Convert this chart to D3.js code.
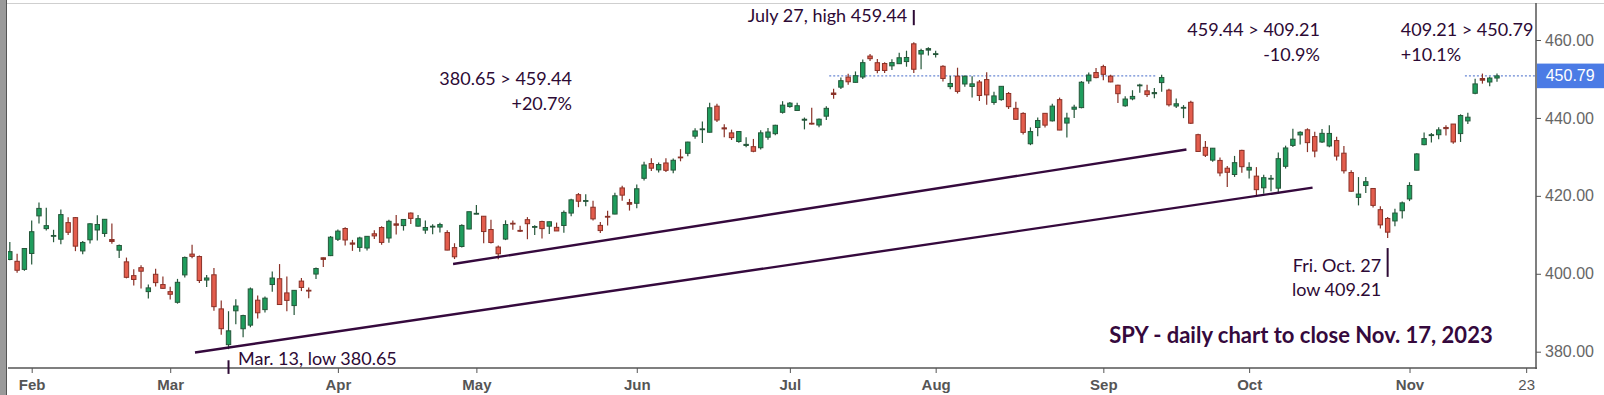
<!DOCTYPE html>
<html><head><meta charset="utf-8">
<script src="https://cdn.jsdelivr.net/npm/d3@7"></script>
<style>body{margin:0;background:#fff;overflow:hidden}svg{display:block}</style>
</head><body>
<svg id="chart" width="1604" height="395"></svg>
<script>
// ---------------- DATA ----------------
const dates = [
"2023-01-27","2023-01-30","2023-01-31",
"2023-02-01","2023-02-02","2023-02-03","2023-02-06","2023-02-07","2023-02-08","2023-02-09","2023-02-10","2023-02-13","2023-02-14","2023-02-15","2023-02-16","2023-02-17","2023-02-21","2023-02-22","2023-02-23","2023-02-24","2023-02-27","2023-02-28",
"2023-03-01","2023-03-02","2023-03-03","2023-03-06","2023-03-07","2023-03-08","2023-03-09","2023-03-10","2023-03-13","2023-03-14","2023-03-15","2023-03-16","2023-03-17","2023-03-20","2023-03-21","2023-03-22","2023-03-23","2023-03-24","2023-03-27","2023-03-28","2023-03-29","2023-03-30","2023-03-31",
"2023-04-03","2023-04-04","2023-04-05","2023-04-06","2023-04-10","2023-04-11","2023-04-12","2023-04-13","2023-04-14","2023-04-17","2023-04-18","2023-04-19","2023-04-20","2023-04-21","2023-04-24","2023-04-25","2023-04-26","2023-04-27","2023-04-28",
"2023-05-01","2023-05-02","2023-05-03","2023-05-04","2023-05-05","2023-05-08","2023-05-09","2023-05-10","2023-05-11","2023-05-12","2023-05-15","2023-05-16","2023-05-17","2023-05-18","2023-05-19","2023-05-22","2023-05-23","2023-05-24","2023-05-25","2023-05-26","2023-05-30","2023-05-31",
"2023-06-01","2023-06-02","2023-06-05","2023-06-06","2023-06-07","2023-06-08","2023-06-09","2023-06-12","2023-06-13","2023-06-14","2023-06-15","2023-06-16","2023-06-20","2023-06-21","2023-06-22","2023-06-23","2023-06-26","2023-06-27","2023-06-28","2023-06-29","2023-06-30",
"2023-07-03","2023-07-05","2023-07-06","2023-07-07","2023-07-10","2023-07-11","2023-07-12","2023-07-13","2023-07-14","2023-07-17","2023-07-18","2023-07-19","2023-07-20","2023-07-21","2023-07-24","2023-07-25","2023-07-26","2023-07-27","2023-07-28","2023-07-31",
"2023-08-01","2023-08-02","2023-08-03","2023-08-04","2023-08-07","2023-08-08","2023-08-09","2023-08-10","2023-08-11","2023-08-14","2023-08-15","2023-08-16","2023-08-17","2023-08-18","2023-08-21","2023-08-22","2023-08-23","2023-08-24","2023-08-25","2023-08-28","2023-08-29","2023-08-30","2023-08-31",
"2023-09-01","2023-09-05","2023-09-06","2023-09-07","2023-09-08","2023-09-11","2023-09-12","2023-09-13","2023-09-14","2023-09-15","2023-09-18","2023-09-19","2023-09-20","2023-09-21","2023-09-22","2023-09-25","2023-09-26","2023-09-27","2023-09-28","2023-09-29",
"2023-10-02","2023-10-03","2023-10-04","2023-10-05","2023-10-06","2023-10-09","2023-10-10","2023-10-11","2023-10-12","2023-10-13","2023-10-16","2023-10-17","2023-10-18","2023-10-19","2023-10-20","2023-10-23","2023-10-24","2023-10-25","2023-10-26","2023-10-27","2023-10-30","2023-10-31",
"2023-11-01","2023-11-02","2023-11-03","2023-11-06","2023-11-07","2023-11-08","2023-11-09","2023-11-10","2023-11-13","2023-11-14","2023-11-15","2023-11-16","2023-11-17"
];
const open = [
403.66,403.20,401.13,
405.21,414.86,411.59,409.79,408.87,413.13,414.41,405.86,408.72,411.24,410.35,408.79,406.06,403.06,399.52,401.56,395.42,399.87,397.23,
395.41,392.68,399.71,405.05,404.42,398.39,399.74,390.99,381.81,390.50,385.89,386.82,393.22,390.80,397.24,398.73,395.09,391.84,398.12,395.77,399.93,404.10,404.66,
408.85,411.62,407.91,406.77,406.61,410.26,411.87,409.18,412.81,412.37,415.58,412.22,411.21,412.19,411.99,410.58,406.72,407.00,411.49,
415.47,414.77,411.36,406.86,408.91,412.97,411.13,413.88,411.95,413.42,412.22,411.91,412.39,415.58,420.30,418.64,417.08,412.42,414.74,415.33,422.03,418.28,
418.09,424.50,428.28,426.67,428.44,426.62,429.96,430.92,435.32,437.01,436.33,443.02,437.45,436.16,433.95,432.93,432.62,432.35,435.05,435.96,441.44,
442.92,441.91,439.42,438.63,438.18,440.45,446.39,447.90,450.47,449.13,450.50,455.88,454.17,453.96,453.37,453.92,454.47,459.02,456.40,457.41,
456.27,453.25,448.04,450.72,448.71,448.08,449.22,449.84,443.97,444.70,446.27,442.46,441.16,433.37,437.55,441.18,439.25,444.69,438.68,442.24,442.65,449.51,451.65,
453.17,450.73,448.40,443.11,444.90,448.24,446.95,446.22,449.07,447.14,443.05,442.68,444.01,435.70,432.45,429.17,429.09,427.09,425.48,431.67,
426.62,425.06,422.07,424.36,421.97,427.58,432.94,435.64,436.95,435.21,433.82,432.81,434.19,430.95,425.98,419.61,422.65,421.89,416.45,414.19,413.56,416.18,
419.20,426.58,433.14,435.47,435.69,437.55,438.43,435.98,439.23,446.32,450.11,449.22,450.24
];
const high = [
408.16,405.13,406.53,
413.67,418.31,416.97,411.29,416.49,414.53,414.57,408.44,412.97,415.05,414.06,412.91,407.51,404.16,401.13,402.20,397.25,401.29,399.28,
396.69,398.69,404.45,407.45,404.67,399.71,401.48,393.16,390.39,393.45,389.49,396.47,394.40,394.17,400.61,402.49,399.29,395.84,398.92,396.49,401.60,404.19,409.70,
411.37,411.92,408.70,409.48,409.69,411.18,412.17,413.84,415.09,413.96,415.72,415.08,413.70,412.68,413.07,411.16,407.84,412.69,415.94,
417.62,414.82,413.87,407.24,413.72,413.68,412.31,414.54,412.43,413.64,413.43,413.14,416.22,419.23,420.72,420.39,418.72,413.31,416.16,420.77,422.58,419.22,
422.92,428.74,429.62,428.58,429.62,429.60,431.99,433.88,437.33,439.06,443.90,443.61,438.37,436.99,436.62,435.06,434.61,436.81,437.44,438.28,444.30,
444.08,443.89,440.10,442.64,439.84,442.97,447.48,450.38,451.36,451.93,454.97,456.43,455.10,454.30,455.04,456.74,457.25,459.44,457.78,458.16,
457.25,453.52,450.79,452.89,450.87,450.70,449.74,451.70,446.70,448.11,446.64,444.18,441.43,437.57,440.11,441.18,443.67,445.22,441.30,443.40,449.45,451.67,452.83,
453.67,451.06,448.51,445.55,447.11,448.77,448.53,447.71,451.08,447.48,444.97,443.29,444.44,435.97,434.10,432.27,429.82,427.67,430.25,431.85,
428.60,427.37,425.43,425.37,431.13,432.88,437.22,436.58,437.34,436.45,437.14,438.14,435.18,432.82,426.54,424.82,424.82,421.92,417.33,414.60,416.68,418.53,
423.50,430.92,436.29,436.15,437.59,438.09,438.47,440.93,441.33,450.06,451.38,450.56,451.42
];
const low = [
403.44,400.28,400.77,
402.35,412.88,411.09,408.10,407.57,409.93,405.81,405.01,407.74,408.51,409.47,407.70,404.05,398.82,397.02,396.25,393.64,396.75,396.15,
393.38,392.33,399.03,404.01,397.63,396.59,390.53,384.32,380.65,387.05,383.71,386.29,388.55,390.07,395.41,392.07,390.35,389.40,395.56,393.69,398.68,401.76,404.54,
408.44,407.24,405.88,405.68,405.97,408.92,407.44,407.99,410.06,411.08,412.78,412.16,410.27,410.17,410.60,406.02,403.78,406.74,411.43,
415.27,407.82,407.77,403.74,408.64,411.27,410.69,408.87,409.97,409.07,410.23,410.99,410.52,414.76,417.09,417.35,413.68,410.48,412.41,415.25,418.74,416.22,
416.79,423.95,426.37,425.99,426.11,425.82,428.87,430.17,434.63,433.59,436.23,438.97,435.03,434.33,433.60,432.47,431.19,431.88,434.41,435.54,441.11,
442.63,441.90,437.06,438.30,437.59,439.44,444.91,447.45,448.49,449.08,449.99,454.61,451.44,451.53,452.30,453.87,453.14,451.55,452.49,456.05,
455.49,449.35,447.37,446.27,447.99,445.27,444.35,443.35,443.35,444.38,442.30,439.53,435.75,433.01,435.32,437.57,439.10,436.86,435.00,439.97,442.46,448.78,450.16,
449.68,449.17,443.81,442.86,444.53,446.47,445.39,445.08,446.75,442.92,442.56,439.94,438.43,431.23,429.99,428.72,425.02,422.29,424.87,425.91,
424.46,420.18,420.56,421.17,420.60,427.01,432.53,433.18,431.23,429.88,433.57,432.45,429.09,425.73,421.08,417.55,420.74,417.02,411.60,409.21,412.22,414.21,
418.65,426.56,433.01,433.68,434.51,435.50,433.40,433.83,438.42,446.09,448.80,448.12,449.29
];
const close = [
405.68,400.90,406.48,
410.80,416.78,412.35,409.83,415.19,410.65,407.09,408.04,412.83,412.64,413.98,408.28,407.26,399.09,398.54,400.66,396.38,397.73,396.26,
394.74,397.81,404.19,404.47,398.27,398.92,391.56,385.91,385.36,391.73,389.28,396.11,389.99,393.74,398.91,392.11,393.17,395.75,396.49,395.60,401.35,403.70,409.39,
410.95,408.67,407.60,409.19,409.61,409.72,408.05,413.47,412.46,413.94,414.21,414.14,411.88,412.20,412.63,406.08,404.36,412.41,415.93,
415.51,410.84,408.02,405.13,412.63,412.87,410.93,412.85,412.13,411.59,413.35,410.99,415.75,418.97,418.62,418.79,414.09,411.09,414.65,420.02,420.18,417.85,
421.82,427.92,427.10,428.03,426.55,429.13,429.90,433.80,436.66,437.18,442.60,439.46,437.18,434.94,436.51,433.21,431.44,436.17,436.39,438.11,443.28,
443.79,443.13,439.66,438.55,439.67,442.46,446.02,449.56,449.28,450.84,454.19,455.20,452.18,452.18,454.20,455.44,455.51,452.49,457.30,457.79,
456.48,450.13,448.84,446.81,450.71,448.75,445.75,445.91,445.65,448.11,442.89,439.64,436.29,436.50,439.34,438.15,443.03,436.89,439.97,442.76,449.16,451.01,450.35,
451.19,449.24,446.22,444.85,445.52,448.45,445.99,446.51,450.36,443.37,443.63,442.71,438.64,431.39,430.42,432.23,425.88,426.05,428.52,427.48,
427.31,421.59,424.66,424.50,429.54,432.29,434.54,436.32,433.66,431.50,436.04,436.02,430.21,426.43,421.19,420.46,423.63,417.55,412.55,410.68,415.59,418.20,
422.66,430.76,434.69,435.69,436.93,437.25,433.84,440.61,440.19,448.73,449.68,450.23,450.79
];

const yTickValues = [380, 400, 420, 440, 460];
const xTickDates  = ["2023-02-01","2023-03-01","2023-04-03","2023-05-01","2023-06-01","2023-07-03","2023-08-01","2023-09-01","2023-10-02","2023-11-01","2023-11-23"];
const xTickLabels = ["Feb","Mar","Apr","May","Jun","Jul","Aug","Sep","Oct","Nov","23"];

// trend lines: start/end in trading-day index and price
const trendStartIdx   = [60.8, 25.4];
const trendStartPrice = [402.5, 379.8];
const trendEndIdx     = [161.4, 178.7];
const trendEndPrice   = [431.9, 422.1];

// dotted level segments at last close
const levelSegStart = [112.4, 199.6];
const levelSegEnd   = [157.2, 209.4];

// annotations (index, price, anchor)
const noteTexts   = ["July 27, high 459.44","380.65 > 459.44","+20.7%","459.44 > 409.21","-10.9%","409.21 > 450.79","+10.1%","Fri. Oct. 27","low 409.21","Mar. 13, low 380.65"];
const noteIdx     = [123.1, 77.1, 77.1, 179.7, 179.7, 190.8, 190.8, 188.1, 188.1, 31.3];
const notePrice   = [464.7, 448.4, 442.0, 461.0, 454.6, 461.0, 454.6, 400.5, 394.3, 376.6];
const noteAnchor  = ["end","end","end","end","end","start","start","end","end","start"];
const titleText = "SPY - daily chart to close Nov. 17, 2023";
const markerDates = ["2023-07-27","2023-10-27","2023-03-13"];
const markerTop   = [467.7, 406.6, 377.8];
const markerBot   = [463.8, 399.2, 374.3];

// ---------------- CHART ----------------
const W = 1604, H = 395;
const L = 8, R = 1536, T = 3, B = 368;
const svg = d3.select("#chart");

const calendar = dates.slice();
let dt = d3.timeParse("%Y-%m-%d")(dates[dates.length-1]);
const fmt = d3.timeFormat("%Y-%m-%d");
while (calendar.length < 215) { dt = d3.timeDay.offset(dt, 1); const wd = dt.getDay(); if (wd !== 0 && wd !== 6) calendar.push(fmt(dt)); }
const idxOf = new Map(calendar.map((d, i) => [d, i]));

const x = d3.scaleLinear().domain([-0.25, 209.35]).range([L, R]);
const y = d3.scaleLinear().domain([380, 460]).range([351.7, 40]);

// frame
svg.append("rect").attr("x",0).attr("y",0).attr("width",W).attr("height",H).attr("fill","#fff");
svg.append("rect").attr("x",0).attr("y",0).attr("width",6).attr("height",H).attr("fill","#9a9a9a");
svg.append("line").attr("x1",6.5).attr("x2",6.5).attr("y1",0).attr("y2",H).attr("stroke","#555").attr("stroke-width",1);
svg.append("line").attr("x1",7).attr("x2",W).attr("y1",3.5).attr("y2",3.5).attr("stroke","#cfcfcf").attr("stroke-width",1);

const defs = svg.append("defs");
defs.append("clipPath").attr("id","plotclip").append("rect").attr("x",L).attr("y",T).attr("width",R-L).attr("height",B-T);
const plot = svg.append("g").attr("clip-path","url(#plotclip)");

const lastClose = close[close.length-1];
plot.selectAll("line.level").data(levelSegStart).join("line")
  .attr("x1",(d)=>x(d)).attr("x2",(d,i)=>x(levelSegEnd[i]))
  .attr("y1",y(lastClose)).attr("y2",y(lastClose))
  .attr("stroke","#6a88d4").attr("stroke-width",1.1).attr("stroke-dasharray","2,2");

// candles
const GREEN_F = "#1f9d5d", GREEN_S = "#25573a", RED_F = "#e35d4d", RED_S = "#8a3127";
const bw = 4.4;
const candles = plot.selectAll("g.c").data(dates.map((d,i)=>i)).join("g");
candles.append("line")
  .attr("x1",i=>x(i)).attr("x2",i=>x(i))
  .attr("y1",i=>y(high[i])).attr("y2",i=>y(low[i]))
  .attr("stroke",i=>close[i]>=open[i]?GREEN_S:RED_S).attr("stroke-width",1.2);
candles.append("rect")
  .attr("x",i=>x(i)-bw/2)
  .attr("y",i=>y(Math.max(open[i],close[i])))
  .attr("width",bw)
  .attr("height",i=>Math.max(0.8, Math.abs(y(open[i])-y(close[i]))))
  .attr("fill",i=>{const up=close[i]>=open[i]; if (Math.abs(y(open[i])-y(close[i]))<2) return up?GREEN_S:RED_S; return up?GREEN_F:RED_F;})
  .attr("stroke",i=>close[i]>=open[i]?GREEN_S:RED_S).attr("stroke-width",1);

// trend lines
plot.selectAll("line.trend").data(trendStartIdx).join("line")
  .attr("x1",d=>x(d)).attr("y1",(d,i)=>y(trendStartPrice[i]))
  .attr("x2",(d,i)=>x(trendEndIdx[i])).attr("y2",(d,i)=>y(trendEndPrice[i]))
  .attr("stroke","#35093d").attr("stroke-width",2.4).attr("stroke-linecap","butt");

// borders
svg.append("line").attr("x1",R).attr("x2",R).attr("y1",T).attr("y2",B+1).attr("stroke","#555").attr("stroke-width",1.5);
svg.append("line").attr("x1",L).attr("x2",R+1).attr("y1",B).attr("y2",B).attr("stroke","#555").attr("stroke-width",1.5);

// right axis
const yAxis = d3.axisRight(y).tickValues(yTickValues).tickFormat(d3.format(".2f")).tickSize(5).tickPadding(4);
const gy = svg.append("g").attr("transform",`translate(${R},0)`).call(yAxis);
gy.select(".domain").remove();
gy.selectAll(".tick line").attr("stroke","#555");
gy.selectAll(".tick text").attr("fill","#666").style("font-family","'Liberation Sans', Arial, sans-serif").style("font-size","16px");

// bottom axis
const xTickIdx = xTickDates.map(d=>idxOf.get(d));
const xAxis = d3.axisBottom(x).tickValues(xTickIdx).tickFormat((d,k)=>xTickLabels[k]).tickSize(5).tickPadding(6);
const gx = svg.append("g").attr("transform",`translate(0,${B})`).call(xAxis);
gx.select(".domain").remove();
gx.selectAll(".tick line").attr("stroke","#555");
gx.selectAll(".tick text").attr("fill","#555").style("font-family","'Liberation Sans', Arial, sans-serif")
  .style("font-size","15px").style("font-weight",(d,k)=>k===xTickLabels.length-1?"normal":"bold");

// last price box
const lp = y(lastClose);
svg.append("rect").attr("x",R+1).attr("y",lp-12.3).attr("width",W-R-1).attr("height",24.6).attr("fill","#4b7be5");
svg.append("text").attr("x",R+9.7).attr("y",lp).attr("dy","0.35em").attr("fill","#fff")
  .style("font-family","'Liberation Sans', Arial, sans-serif").style("font-size","16px").text(d3.format(".2f")(lastClose));

// annotations
const ANN = "#2d0a35";
svg.selectAll("text.note").data(noteTexts).join("text").attr("class","note")
  .attr("x",(d,i)=>x(noteIdx[i])).attr("y",(d,i)=>y(notePrice[i]))
  .attr("text-anchor",(d,i)=>noteAnchor[i]).attr("fill",ANN)
  .style("font-family","Lato, 'Open Sans', sans-serif").style("font-size","18px").text(d=>d);
svg.selectAll("line.marker").data(markerDates).join("line")
  .attr("x1",d=>x(idxOf.get(d))).attr("x2",d=>x(idxOf.get(d)))
  .attr("y1",(d,i)=>y(markerTop[i])).attr("y2",(d,i)=>y(markerBot[i]))
  .attr("stroke",ANN).attr("stroke-width",2);
svg.append("text").attr("x",x(150.8)).attr("y",y(382.3)).attr("fill","#35093d")
  .style("font-family","Lato, 'Open Sans', sans-serif").style("font-size","22px").style("font-weight","bold").text(titleText);
</script>
</body></html>
